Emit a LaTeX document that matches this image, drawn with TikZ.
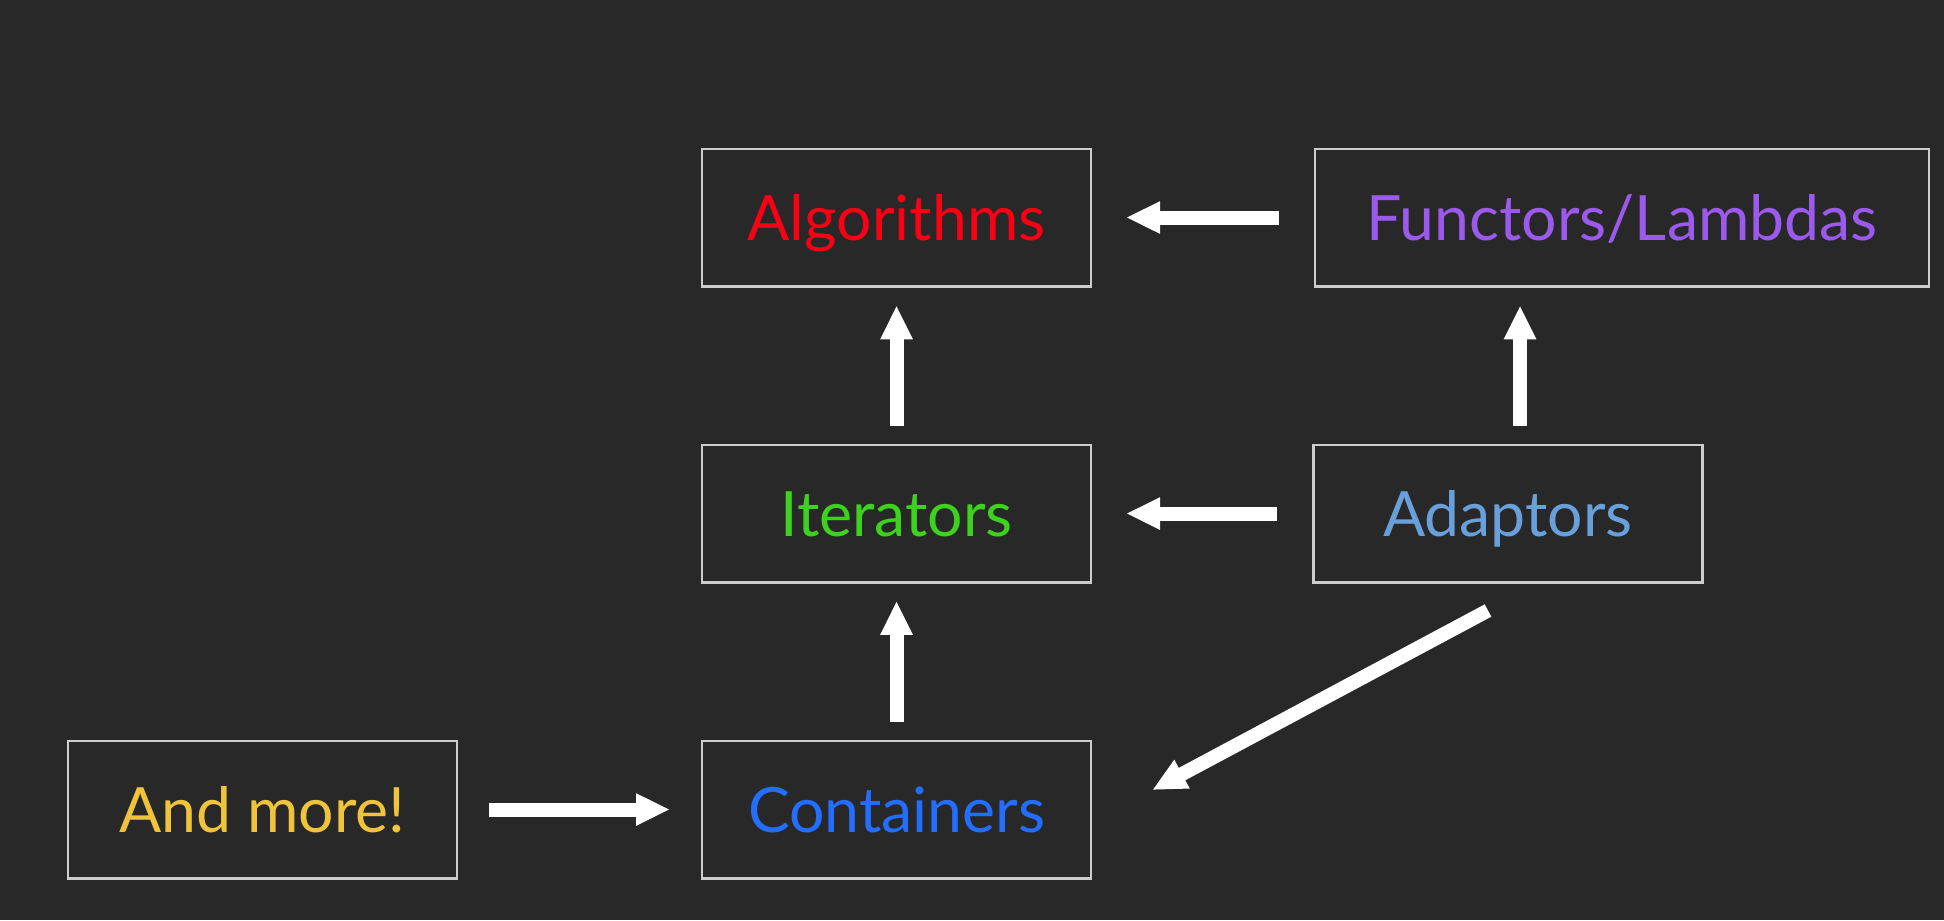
\documentclass[tikz,border=0pt]{standalone}
\usepackage{fontspec}
\setmainfont{Lato}
\usetikzlibrary{arrows.meta}

\definecolor{bgdark}{RGB}{40,40,40}
\definecolor{boxline}{RGB}{205,205,205}
\definecolor{algocol}{RGB}{250,0,20}
\definecolor{funccol}{RGB}{155,90,235}
\definecolor{itercol}{RGB}{60,210,30}
\definecolor{adaptcol}{RGB}{105,160,220}
\definecolor{morecol}{RGB}{240,195,60}
\definecolor{contcol}{RGB}{35,110,255}

\begin{document}
\begin{tikzpicture}[x=0.4pt, y=-0.4pt,
  box/.style={rectangle, draw=boxline, line width=1pt, fill=bgdark, minimum width=155.6pt, minimum height=55pt,
    inner ysep=0pt, text height=18.5pt, text depth=0pt, font=\fontsize{25}{30}\selectfont},
  arrow/.style={draw=white, line width=5.6pt, -{Triangle[length=13.5pt, width=12pt]}}]
  \fill [bgdark] (0,0) rectangle (1944,920);
  \useasboundingbox (0,0) rectangle (1944,920);
  \node [box, text=algocol] (algo) at (896.5, 217.5) {Algorithms};
  \node [box, text=funccol, minimum width=245.6pt] (func) at (1622, 217.5) {Functors/Lambdas};
  \node [box, text=itercol] (iter) at (896.5, 513.5) {Iterators};
  \node [box, text=adaptcol] (adapt) at (1508, 513.5) {Adaptors};
  \node [box, text=morecol] (more) at (262.5, 809.5) {And more!};
  \node [box, text=contcol] (cont) at (896.5, 809.5) {Containers};
  \draw [arrow, shorten <=14pt, shorten >=13.6pt] (func) -- (algo);
  \draw [arrow, shorten <=7.2pt, shorten >=7.2pt] (iter) -- (algo);
  \draw [arrow, shorten <=7.2pt, shorten >=7.2pt] ([xshift=4.8pt]adapt.north) -- ([xshift=4.8pt]adapt.north |- func.south);
  \draw [arrow, shorten <=14pt, shorten >=13.6pt] (adapt) -- (iter);
  \draw [arrow, shorten <=7.2pt, shorten >=7pt] (cont) -- (iter);
  \draw [arrow, shorten <=12.4pt, shorten >=12.4pt] (more) -- (cont);
  \draw [arrow] ([shift={(-20,27)}]adapt.south) -- ([shift={(60,-19.5)}]cont.east);
\end{tikzpicture}
\end{document}
